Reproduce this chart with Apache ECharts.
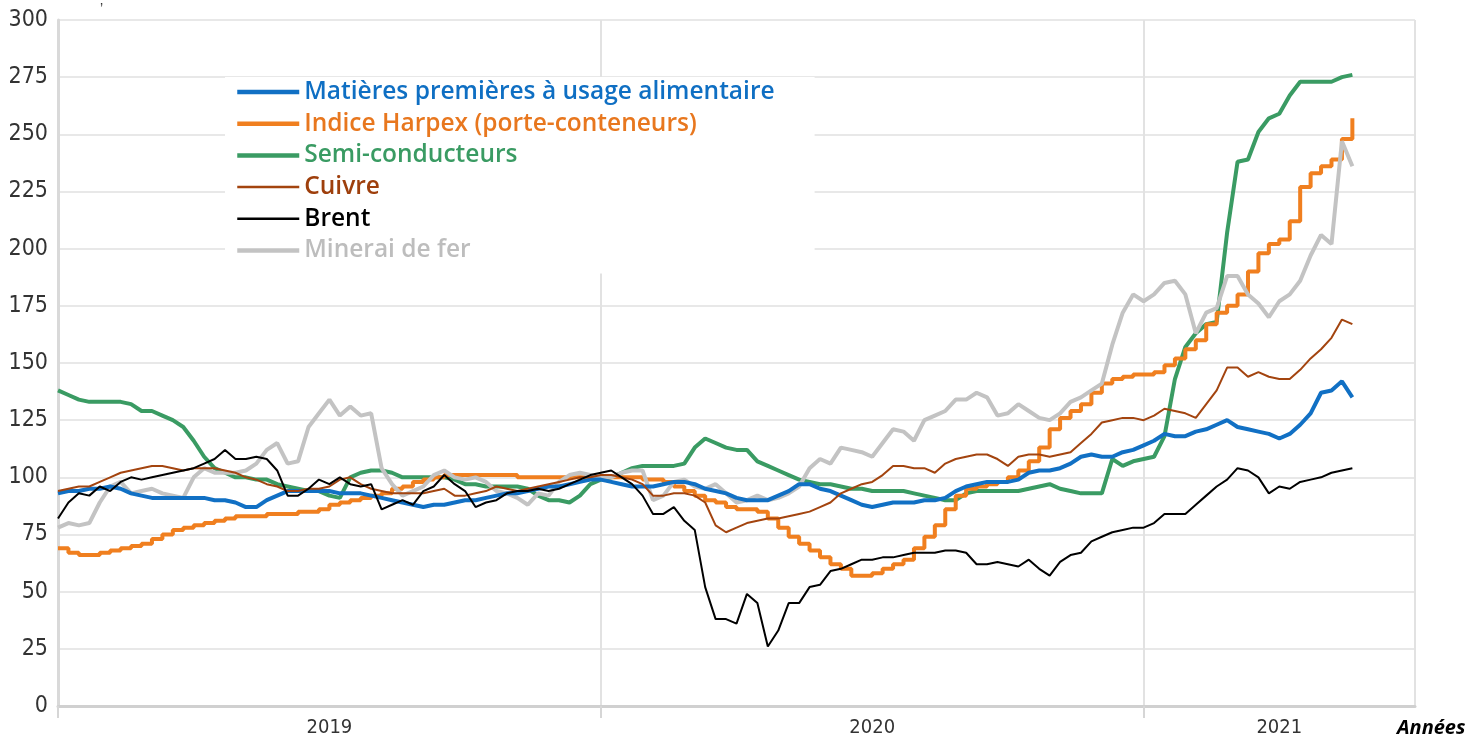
<!DOCTYPE html>
<html>
<head>
<meta charset="utf-8">
<title>Prix des matières premières</title>
<script src="https://cdn.jsdelivr.net/npm/echarts@6.0.0/dist/echarts.min.js"></script>
<style>
  html, body { margin: 0; padding: 0; background: #fff; }
  #demo-charts { width: 1481px; height: 742px; }
</style>
</head>
<body>
<div id="demo-charts"></div>
<script>
// semaines depuis le 1er janvier 2019 (jusqu'a fin juin 2021)
let weeks = []
for (let i = 0; i < 131; i++) {
  weeks.push(new Date(Date.UTC(2019, 0, 1) + i * 7 * 86400000).toISOString().slice(0, 10))
}
// index des semaines : etiquettes d'annees et separations
const yearLabelWeeks = [26, 78, 117]
const yearLineWeeks = [52, 104, 130]
const yearTickWeeks = [0, 52, 104]

const names = [
  'Matières premières à usage alimentaire',
  'Indice Harpex (porte-conteneurs)',
  'Semi-conducteurs',
  'Cuivre',
  'Brent',
  'Minerai de fer'
]

const alimentaire = [93, 94, 94, 95, 95, 96, 95, 93, 92, 91, 91, 91, 91, 91, 91, 90, 90, 89, 87, 87,
  90, 92, 94, 94, 94, 94, 94, 93, 93, 93, 92, 91, 90, 89, 88, 87, 88, 88, 89, 90,
  90, 91, 92, 93, 93, 94, 95, 96, 96, 97, 98, 99, 99, 98, 97, 96, 96, 96, 97, 98,
  98, 97, 95, 94, 93, 91, 90, 90, 90, 92, 94, 97, 97, 95, 94, 92, 90, 88, 87, 88,
  89, 89, 89, 90, 90, 91, 94, 96, 97, 98, 98, 98, 99, 102, 103, 103, 104, 106, 109, 110,
  109, 109, 111, 112, 114, 116, 119, 118, 118, 120, 121, 123, 125, 122, 121, 120, 119, 117, 119, 123,
  128, 137, 138, 142, 135]

const harpex = [69, 67, 66, 66, 67, 68, 69, 70, 71, 73, 75, 77, 78, 79, 80, 81, 82, 83, 83, 83,
  84, 84, 84, 85, 85, 86, 88, 89, 90, 91, 92, 93, 95, 96, 98, 99, 100, 101, 101, 101,
  101, 101, 101, 101, 100, 100, 100, 100, 100, 100, 100, 100, 100, 100, 100, 100, 99, 99, 98, 96,
  94, 92, 90, 89, 87, 86, 86, 85, 82, 78, 74, 71, 68, 65, 62, 60, 57, 57, 58, 60,
  62, 64, 69, 74, 79, 86, 92, 95, 96, 97, 98, 100, 103, 107, 113, 121, 126, 129, 132, 137,
  141, 143, 144, 145, 145, 146, 149, 152, 156, 160, 167, 172, 175, 180, 190, 198, 202, 204, 212, 227,
  233, 236, 239, 248, 257]

const semiconducteurs = [138, 136, 134, 133, 133, 133, 133, 132, 129, 129, 127, 125, 122, 116, 109, 104, 102, 100, 100, 99,
  99, 97, 96, 95, 94, 94, 92, 91, 100, 102, 103, 103, 102, 100, 100, 100, 100, 100, 99, 97,
  97, 96, 96, 96, 96, 95, 92, 90, 90, 89, 92, 97, 99, 100, 102, 104, 105, 105, 105, 105,
  106, 113, 117, 115, 113, 112, 112, 107, 105, 103, 101, 99, 98, 97, 97, 96, 95, 95, 94, 94,
  94, 94, 93, 92, 91, 90, 90, 93, 94, 94, 94, 94, 94, 95, 96, 97, 95, 94, 93, 93,
  93, 108, 105, 107, 108, 109, 118, 143, 157, 163, 167, 168, 207, 238, 239, 251, 257, 259, 267, 273,
  273, 273, 273, 275, 276]

const cuivre = [94, 95, 96, 96, 98, 100, 102, 103, 104, 105, 105, 104, 103, 104, 104, 104, 103, 102, 100, 99,
  97, 96, 94, 94, 95, 95, 96, 99, 100, 97, 95, 94, 93, 93, 93, 93, 94, 95, 92, 92,
  93, 94, 96, 95, 94, 95, 96, 97, 98, 99, 100, 100, 101, 101, 100, 99, 97, 92, 92, 93,
  93, 92, 89, 79, 76, 78, 80, 81, 82, 82, 83, 84, 85, 87, 89, 93, 95, 97, 98, 101,
  105, 105, 104, 104, 102, 106, 108, 109, 110, 110, 108, 105, 109, 110, 110, 109, 110, 111, 115, 119,
  124, 125, 126, 126, 125, 127, 130, 129, 128, 126, 132, 138, 148, 148, 144, 146, 144, 143, 143, 147,
  152, 156, 161, 169, 167]

const brent = [82, 89, 93, 92, 96, 94, 98, 100, 99, 100, 101, 102, 103, 104, 106, 108, 112, 108, 108, 109,
  108, 103, 92, 92, 95, 99, 97, 100, 97, 96, 97, 86, 88, 90, 88, 94, 96, 101, 97, 94,
  87, 89, 90, 93, 94, 94, 95, 94, 95, 97, 99, 101, 102, 103, 100, 97, 92, 84, 84, 87,
  81, 77, 52, 38, 38, 36, 49, 45, 26, 33, 45, 45, 52, 53, 59, 60, 62, 64, 64, 65,
  65, 66, 67, 67, 67, 68, 68, 67, 62, 62, 63, 62, 61, 64, 60, 57, 63, 66, 67, 72,
  74, 76, 77, 78, 78, 80, 84, 84, 84, 88, 92, 96, 99, 104, 103, 100, 93, 96, 95, 98,
  99, 100, 102, 103, 104]

const minerai = [78, 80, 79, 80, 89, 96, 98, 93, 94, 95, 93, 92, 91, 100, 104, 102, 102, 102, 103, 106,
  112, 115, 106, 107, 122, 128, 134, 127, 131, 127, 128, 104, 97, 92, 94, 96, 101, 103, 100, 99,
  100, 98, 94, 93, 91, 88, 93, 92, 98, 101, 102, 101, 100, 100, 102, 103, 103, 90, 92, 98,
  99, 96, 95, 97, 93, 89, 90, 92, 90, 91, 93, 96, 104, 108, 106, 113, 112, 111, 109, 115,
  121, 120, 116, 125, 127, 129, 134, 134, 137, 135, 127, 128, 132, 129, 126, 125, 128, 133, 135, 138,
  141, 158, 172, 180, 177, 180, 185, 186, 180, 163, 172, 174, 188, 188, 180, 176, 170, 177, 180, 186,
  197, 206, 202, 247, 236]

const colors = ['#1170C4', '#F07F1F', '#3A9B63', '#A3440F', '#000000', '#C3C3C3']
const textColors = ['#0F6FC3', '#E8771E', '#3A9B63', '#9E3F0C', '#000000', '#BDBDBD']
const widths = [4, 4, 4, 2, 2, 4]
const axisFont = "'DejaVu Sans Condensed', 'Liberation Sans', sans-serif"

let myChart = echarts.init(document.getElementById('demo-charts'))

function lineSerie(idx, data, extra) {
  return Object.assign({
    name: names[idx],
    type: 'line',
    data: data,
    symbol: 'none',
    smooth: false,
    color: colors[idx],
    lineStyle: { width: widths[idx], color: colors[idx] }
  }, extra || {})
}

let option = {
  animation: false,
  backgroundColor: '#fff',
  grid: {
    left: 58,
    right: 66,
    top: 20,
    bottom: 36,
    containLabel: false
  },
  legend: {
    orient: 'vertical',
    left: 225,
    top: 77,
    padding: [2, 40, 10, 10],
    backgroundColor: '#fff',
    itemWidth: 62,
    itemHeight: 4,
    itemGap: 5.7,
    itemStyle: { opacity: 0 },
    textStyle: {
      fontFamily: 'Open Sans',
      fontWeight: 600,
      fontSize: 24.5,
      lineHeight: 26
    },
    data: names.map((n, i) => ({
      name: n,
      lineStyle: { width: widths[i] + 0.5, color: colors[i] },
      textStyle: { color: textColors[i] }
    }))
  },
  graphic: [
    {
      type: 'text',
      left: 100,
      top: 2,
      style: { text: '’', fontSize: 14, fill: '#333', fontFamily: 'Liberation Sans' }
    }
  ],
  xAxis: {
    type: 'category',
    boundaryGap: false,
    data: weeks,
    name: 'Années',
    nameLocation: 'end',
    nameGap: -18,
    nameTextStyle: {
      fontFamily: 'Open Sans',
      fontWeight: 'bold',
      fontStyle: 'italic',
      fontSize: 20,
      color: '#000',
      verticalAlign: 'top',
      padding: [12, 0, 0, 0]
    },
    axisLine: { lineStyle: { color: '#d0d0d0', width: 3 } },
    axisTick: {
      show: true,
      interval: (index) => yearTickWeeks.indexOf(index) >= 0,
      length: 12,
      lineStyle: { color: '#d6d6d6', width: 2 }
    },
    axisLabel: {
      interval: (index) => yearLabelWeeks.indexOf(index) >= 0,
      formatter: (value) => value.slice(0, 4),
      fontFamily: axisFont,
      fontSize: 20,
      color: '#333',
      margin: 12
    },
    splitLine: {
      show: true,
      interval: (index) => yearLineWeeks.indexOf(index) >= 0,
      lineStyle: { color: '#e2e2e2', width: 2 }
    }
  },
  yAxis: {
    type: 'value',
    min: 0,
    max: 300,
    interval: 25,
    axisLine: { show: true, lineStyle: { color: '#d9d9d9', width: 3 } },
    axisTick: { show: false },
    axisLabel: {
      fontFamily: axisFont,
      fontSize: 23,
      color: '#333',
      margin: 10
    },
    splitLine: { lineStyle: { color: '#e8e8e8', width: 2 } }
  },
  series: [
    lineSerie(2, semiconducteurs),
    lineSerie(1, harpex, { step: 'end' }),
    lineSerie(5, minerai),
    lineSerie(0, alimentaire),
    lineSerie(3, cuivre),
    lineSerie(4, brent)
  ]
}
myChart.setOption(option)
</script>
</body>
</html>
